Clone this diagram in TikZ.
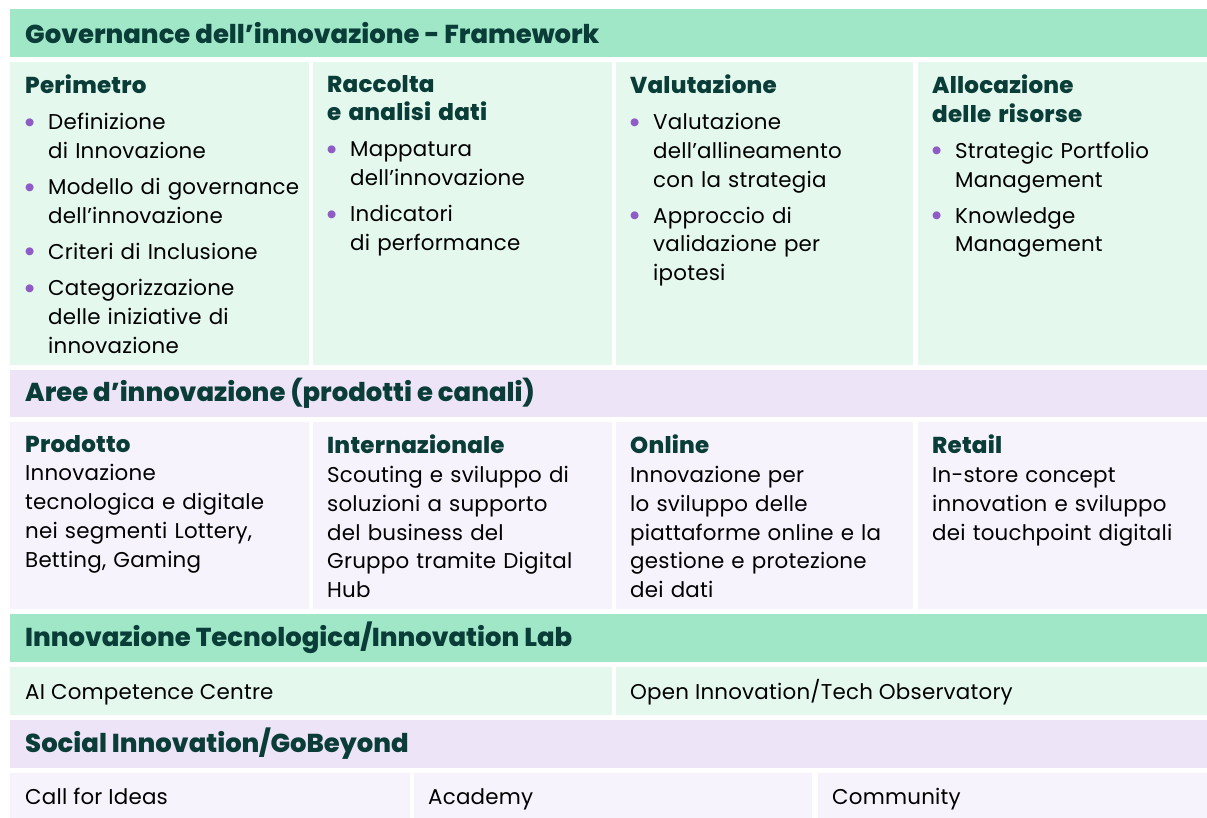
\documentclass[tikz,border=0pt]{standalone}
\usepackage{fontspec}
\setmainfont{Poppins}[BoldFont={Poppins ExtraBold}]
\usepackage{enumitem}
\usetikzlibrary{calc}
\definecolor{hdrgreen}{HTML}{A0E7C8}
\definecolor{cellgreen}{HTML}{E4F8EE}
\definecolor{hdrlilac}{HTML}{EDE4F7}
\definecolor{celllilac}{HTML}{F6F3FC}
\definecolor{titleteal}{HTML}{0A3D38}
\definecolor{dotpurple}{HTML}{8E5CC4}
\newcommand\bodyfont{\addfontfeatures{LetterSpace=1}\fontsize{21.4}{28.7}\selectfont}
\newcommand\hdrfont{\fontsize{25.9}{30}\selectfont\bfseries}
\newcommand\ttl[1]{{\fontsize{23}{28.7}\selectfont\bfseries\color{titleteal}#1}}
\setlist[itemize]{leftmargin=23pt,labelsep=12pt,topsep=7pt,itemsep=7.5pt,parsep=0pt,partopsep=0pt,
  label={\raisebox{-3.5pt}{\color{dotpurple}\fontsize{32}{32}\selectfont\textbullet}}}
\begin{document}
\begin{tikzpicture}[x=1pt,y=-1pt,
    band/.style={anchor=north west,inner sep=0pt,outer sep=0pt},
    hdrtext/.style={anchor=west,inner sep=0pt,font=\hdrfont,text=titleteal},
    celltext/.style={anchor=north west,inner sep=0pt,align=left,text width=#1,font=\bodyfont},
    rowtext/.style={anchor=base west,inner sep=0pt,font=\bodyfont}]
  \useasboundingbox (0,0) rectangle (1207,818);
  % Governance
  \node[band,fill=hdrgreen,minimum width=1197,minimum height=48] (gov) at (10,9) {};
  \node[hdrtext] (govT) at ($(gov.west)+(15,0)$) {Governance dell’innovazione - Framework};
  \node[band,fill=cellgreen,minimum width=299,minimum height=303] (perim) at (10,62) {};
  \node[band,fill=cellgreen,minimum width=299,minimum height=303] (racc) at (313,62) {};
  \node[band,fill=cellgreen,minimum width=297,minimum height=303] (valu) at (616,62) {};
  \node[band,fill=cellgreen,minimum width=289,minimum height=303] (allo) at (918,62) {};
  \node[celltext=280] (perimT) at ($(perim.north west)+(15,13)$) {\ttl{Perimetro}
    \begin{itemize}
      \item Definizione\\di Innovazione
      \item Modello di governance\\dell’innovazione
      \item Criteri di Inclusione
      \item Categorizzazione\\delle iniziative di\\innovazione
    \end{itemize}};
  \node[celltext=280] (raccT) at ($(racc.north west)+(14,13)$) {\ttl{Raccolta\\e analisi dati}
    \begin{itemize}
      \item Mappatura\\dell’innovazione
      \item Indicatori\\di performance
    \end{itemize}};
  \node[celltext=280] (valuT) at ($(valu.north west)+(14,13)$) {\ttl{Valutazione}
    \begin{itemize}
      \item Valutazione\\dell’allineamento\\con la strategia
      \item Approccio di\\validazione per\\ipotesi
    \end{itemize}};
  \node[celltext=275] (alloT) at ($(allo.north west)+(14,13)$) {\ttl{Allocazione\\delle risorse}
    \begin{itemize}
      \item Strategic Portfolio\\Management
      \item Knowledge\\Management
    \end{itemize}};
  % Aree
  \node[band,fill=hdrlilac,minimum width=1197,minimum height=47] (aree) at (10,370) {};
  \node[hdrtext] (areeT) at ($(aree.west)+(15,0)$) {Aree d’innovazione (prodotti e canali)};
  \node[band,fill=celllilac,minimum width=299,minimum height=187] (prod) at (10,422) {};
  \node[band,fill=celllilac,minimum width=299,minimum height=187] (inter) at (313,422) {};
  \node[band,fill=celllilac,minimum width=297,minimum height=187] (onl) at (616,422) {};
  \node[band,fill=celllilac,minimum width=289,minimum height=187] (ret) at (918,422) {};
  \node[celltext=280] (prodT) at ($(prod.north west)+(15,13)$) {\ttl{Prodotto}\\Innovazione\\tecnologica e digitale\\nei segmenti Lottery,\\Betting, Gaming};
  \node[celltext=280] (interT) at ($(inter.north west)+(14,13)$) {\ttl{Internazionale}\\Scouting e sviluppo di\\soluzioni a supporto\\del business del\\Gruppo tramite Digital\\Hub};
  \node[celltext=280] (onlT) at ($(onl.north west)+(14,13)$) {\ttl{Online}\\Innovazione per\\lo sviluppo delle\\piattaforme online e la\\gestione e protezione\\dei dati};
  \node[celltext=275] (retT) at ($(ret.north west)+(14,13)$) {\ttl{Retail}\\In-store concept\\innovation e sviluppo\\dei touchpoint digitali};
  % Innovazione tecnologica
  \node[band,fill=hdrgreen,minimum width=1197,minimum height=48] (tec) at (10,614) {};
  \node[hdrtext] (tecT) at ($(tec.west)+(15,0)$) {Innovazione Tecnologica/Innovation Lab};
  \node[band,fill=cellgreen,minimum width=602,minimum height=48] (aicc) at (10,667) {};
  \node[band,fill=cellgreen,minimum width=591,minimum height=48] (open) at (616,667) {};
  \node[rowtext] (aiccT) at ($(aicc.west)+(15,8)$) {AI Competence Centre};
  \node[rowtext] (openT) at ($(open.west)+(14,8)$) {Open Innovation/Tech Observatory};
  % Social innovation
  \node[band,fill=hdrlilac,minimum width=1197,minimum height=48] (soc) at (10,720) {};
  \node[hdrtext] (socT) at ($(soc.west)+(15,0)$) {Social Innovation/GoBeyond};
  \node[band,fill=celllilac,minimum width=400,minimum height=45] (call) at (10,773) {};
  \node[band,fill=celllilac,minimum width=398,minimum height=45] (acad) at (414,773) {};
  \node[band,fill=celllilac,minimum width=389,minimum height=45] (comm) at (818,773) {};
  \node[rowtext] (callT) at ($(call.west)+(15,9)$) {Call for Ideas};
  \node[rowtext] (acadT) at ($(acad.west)+(14,9)$) {Academy};
  \node[rowtext] (commT) at ($(comm.west)+(14,9)$) {Community};
\end{tikzpicture}
\end{document}
